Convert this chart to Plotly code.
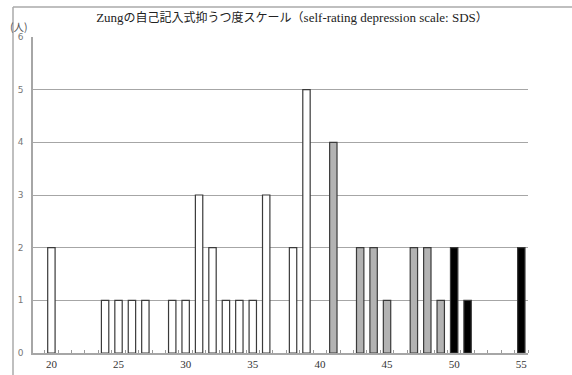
import plotly.graph_objects as go

# Data
white_scores = [20, 24, 25, 26, 27, 29, 30, 31, 32, 33, 34, 35, 36, 38, 39]
white_counts = [2, 1, 1, 1, 1, 1, 1, 3, 2, 1, 1, 1, 3, 2, 5]
gray_scores = [41, 43, 44, 45, 47, 48, 49]
gray_counts = [4, 2, 2, 1, 2, 2, 1]
black_scores = [50, 51, 55]
black_counts = [2, 1, 2]
x_ticks = [20, 25, 30, 35, 40, 45, 50, 55]
y_ticks = [0, 1, 2, 3, 4, 5, 6]

title_jp = "の自己記入式抑うつ度スケール（"
title_en = "self-rating depression scale: SDS"

W, H = 572, 375
L, R, T, B = 33, 44, 37, 22
PW, PH = W - L - R, H - T - B

title = ("<span style=\"font-family:'Liberation Serif',serif;font-size:13px\">Zung</span>" + title_jp
         + "<span style=\"font-family:'Liberation Serif',serif;font-size:13px\">" + title_en + "</span>）")

fig = go.Figure()
for xs, ys, fill in [(white_scores, white_counts, "white"),
                     (gray_scores, gray_counts, "#b3b3b3"),
                     (black_scores, black_counts, "black")]:
    fig.add_trace(go.Bar(
        x=xs, y=ys, width=0.55,
        marker=dict(color=fill, line=dict(color="#3a3a3a", width=1.2)),
        showlegend=False,
    ))

fig.update_layout(
    width=W, height=H,
    margin=dict(l=L, r=R, t=T, b=B, pad=0, autoexpand=False),
    paper_bgcolor="white", plot_bgcolor="white",
    barmode="overlay",
    title=dict(text=title, x=292 / W, xanchor="center",
               y=1 - 18 / H, yanchor="middle", automargin=False,
               font=dict(family="Noto Sans CJK JP", size=12, color="#222")),
    xaxis=dict(
        range=[18.63, 55.5], tickmode="array", tickvals=x_ticks,
        ticks="", showgrid=False, zeroline=False, automargin=False,
        showline=True, linecolor="#a6a6a6", linewidth=1.5,
        tickfont=dict(family="Liberation Serif", size=11, color="#333"),
        minor=dict(tickmode="linear", tick0=19.5, dtick=1, ticks="inside",
                   ticklen=3, tickcolor="#999", tickwidth=1),
    ),
    yaxis=dict(
        range=[0, 6], tickmode="array", tickvals=y_ticks,
        showgrid=True, gridcolor="#a6a6a6", gridwidth=1, automargin=False,
        zeroline=False, showline=True, linecolor="#a6a6a6", linewidth=1.5,
        ticks="", ticklabelstandoff=6,
        tickfont=dict(family="DejaVu Sans", size=9, color="#777"),
    ),
    annotations=[dict(text="(人)", xref="paper", yref="paper",
                      x=(19 - L) / PW, y=1 + (T - 26) / PH,
                      xanchor="center", yanchor="middle", showarrow=False,
                      font=dict(family="Noto Sans CJK JP", size=10.5, color="#555"))],
    shapes=[
        dict(type="line", xref="paper", yref="paper",
             x0=(13 - L) / PW, x1=(W - L) / PW,
             y0=1 + (T - 7) / PH, y1=1 + (T - 7) / PH,
             line=dict(color="#aaa", width=1.5)),
        dict(type="line", xref="paper", yref="paper",
             x0=(13 - L) / PW, x1=(13 - L) / PW,
             y0=-B / PH, y1=1 + (T - 7) / PH,
             line=dict(color="#aaa", width=1.5)),
    ],
)

fig.write_html("out.html", config={"displayModeBar": False},
               post_script="document.body.style.margin='0';document.body.style.overflow='hidden';")
